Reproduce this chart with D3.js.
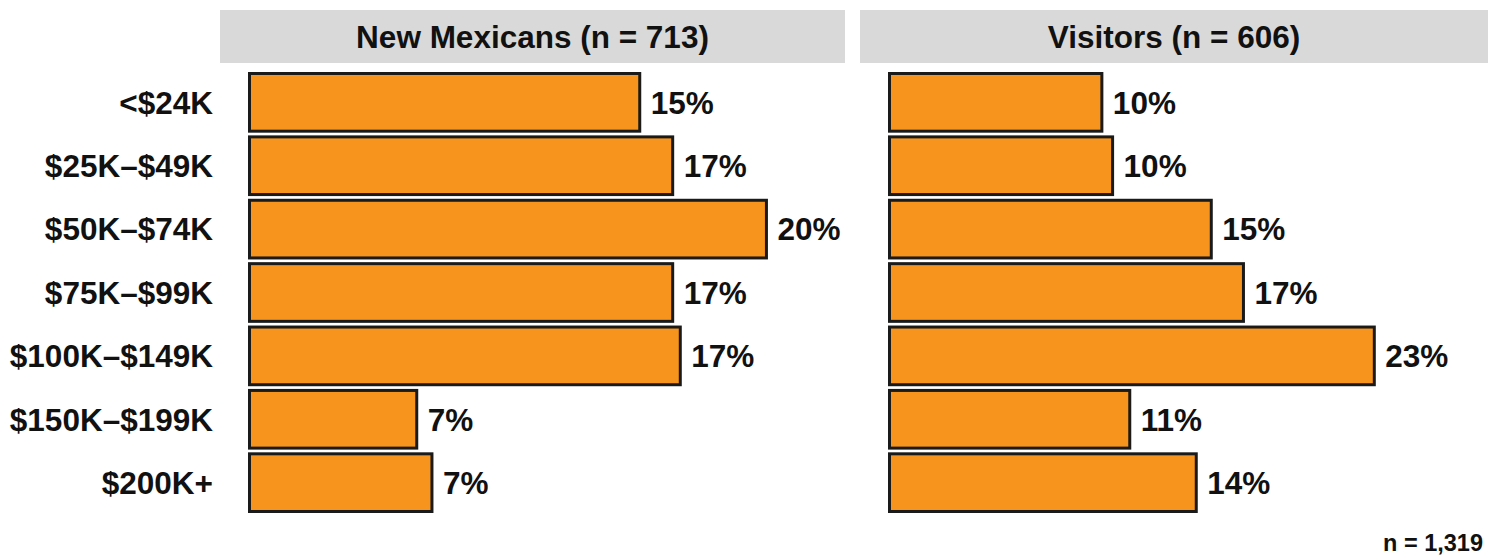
<!DOCTYPE html>
<html>
<head>
<meta charset="utf-8">
<script src="https://cdn.jsdelivr.net/npm/d3@7"></script>
<style>
  body { margin: 0; background: #fff; }
  text { font-family: "Liberation Sans", Arial, sans-serif; font-weight: bold; fill: #111; }
</style>
</head>
<body>
<div id="chart-area"></div>
<script>
// income brackets, shares in percent
let categories = ["<$24K", "$25K\u2013$49K", "$50K\u2013$74K", "$75K\u2013$99K",
                  "$100K\u2013$149K", "$150K\u2013$199K", "$200K+"];
let newMexicans = [15.4, 16.7, 20.4, 16.7, 17.0, 6.6, 7.2];
let visitors = [9.9, 10.4, 15.0, 16.5, 22.6, 11.2, 14.3];
let panelTitles = ["New Mexicans (n = 713)", "Visitors (n = 606)"];
let totalNote = "n = 1,319";

let svg = d3.select('#chart-area')
            .append('svg')
            .attr('width', 1498)
            .attr('height', 557);

let y = d3.scaleBand()
        .domain(categories)
        .range([73.5, 511.5])
        .paddingInner(0.09);

// each facet has its own x scale
let panels = [
    {title: panelTitles[0], values: newMexicans, left: 220, right: 845,
     x: d3.scaleLinear().domain([0, 23.5]).range([249.5, 845])},
    {title: panelTitles[1], values: visitors, left: 860, right: 1488,
     x: d3.scaleLinear().domain([0, 27.9]).range([889.5, 1488])}
];

panels.forEach(function(p){
    let g = svg.append("g");

    g.append("rect")
        .attr("x", p.left)
        .attr("y", 10)
        .attr("width", p.right - p.left)
        .attr("height", 53)
        .attr("fill", "#d9d9d9");

    g.append("text")
        .attr("x", (p.left + p.right) / 2)
        .attr("y", 48)
        .attr("text-anchor", "middle")
        .style("font-size", "31.5px")
        .text(p.title);

    g.selectAll("rect.bar")
        .data(p.values)
        .enter()
        .append("rect")
        .attr("class", "bar")
        .attr("x", p.x(0))
        .attr("y", function(d, i){ return y(categories[i]); })
        .attr("width", function(d){ return p.x(d) - p.x(0); })
        .attr("height", y.bandwidth())
        .attr("fill", "#f7941e")
        .attr("stroke", "#1a1a1a")
        .attr("stroke-width", 3);

    g.selectAll("text.val")
        .data(p.values)
        .enter()
        .append("text")
        .attr("class", "val")
        .attr("x", function(d){ return p.x(d) + 11; })
        .attr("y", function(d, i){ return y(categories[i]) + y.bandwidth() / 2; })
        .attr("dy", "0.36em")
        .style("font-size", "31.5px")
        .text(function(d){ return Math.round(d) + "%"; });
});

svg.selectAll("text.cat")
    .data(categories)
    .enter()
    .append("text")
    .attr("class", "cat")
    .attr("x", 213)
    .attr("y", function(d){ return y(d) + y.bandwidth() / 2; })
    .attr("dy", "0.36em")
    .attr("text-anchor", "end")
    .style("font-size", "31.5px")
    .text(function(d){ return d; });

svg.append("text")
    .attr("x", 1483)
    .attr("y", 551)
    .attr("text-anchor", "end")
    .style("font-size", "23.5px")
    .text(totalNote);
</script>
</body>
</html>
